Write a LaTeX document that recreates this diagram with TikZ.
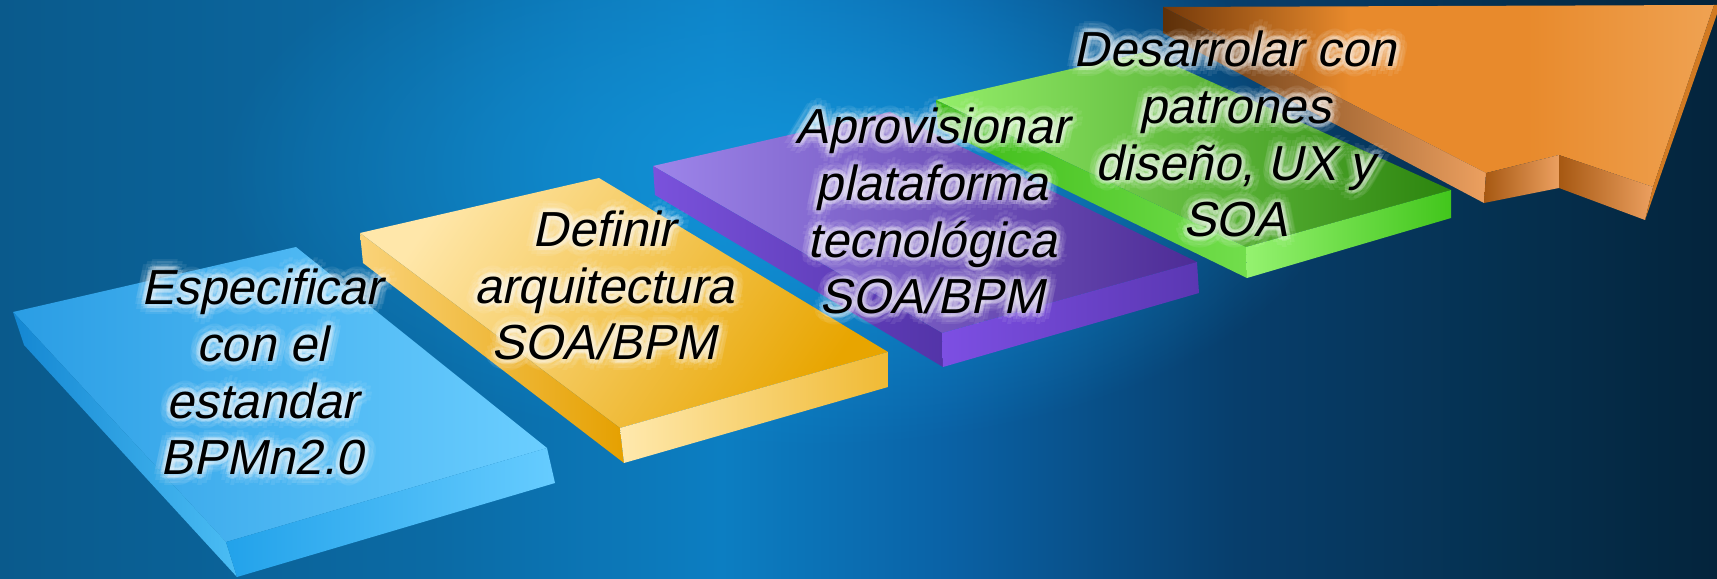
\documentclass[tikz,border=0pt]{standalone}
\usepackage{fontspec}
\setmainfont{Liberation Sans}
\newfontfamily\stepfont{Liberation Sans}[FakeSlant=0.21]
\usetikzlibrary{calc,fadings}

% backdrop colours
\definecolor{bgA}{HTML}{0A5A8C}
\definecolor{bgB}{HTML}{0B6AA4}
\definecolor{bgC}{HTML}{0C7EC2}
\definecolor{bgD}{HTML}{0A62A6}
\definecolor{bgE}{HTML}{073E6C}
\definecolor{bgF}{HTML}{05304F}
\definecolor{bgG}{HTML}{04243C}
\definecolor{bgglow}{HTML}{1293D8}
% step colours
\definecolor{grnA}{HTML}{94EE6A}
\definecolor{grnB}{HTML}{46C81E}
\definecolor{grnC}{HTML}{2C840E}
\definecolor{grnD}{HTML}{3DBB16}
\definecolor{grnE}{HTML}{72DE4C}
\definecolor{grnF}{HTML}{95F270}
\definecolor{grnG}{HTML}{42C61C}
\definecolor{orgA}{HTML}{74390A}
\definecolor{orgB}{HTML}{E88A2C}
\definecolor{orgC}{HTML}{EFA252}
\definecolor{orgD}{HTML}{5E3008}
\definecolor{orgE}{HTML}{ECA060}
\definecolor{orgF}{HTML}{A65812}
\definecolor{orgG}{HTML}{D27A22}
\definecolor{purA}{HTML}{9D85EA}
\definecolor{purB}{HTML}{4D2C96}
\definecolor{purC}{HTML}{7A52DC}
\definecolor{purD}{HTML}{5334A8}
\definecolor{purE}{HTML}{7D4FE3}
\definecolor{purF}{HTML}{5A37B2}
\definecolor{ylwA}{HTML}{FFE7AA}
\definecolor{ylwB}{HTML}{E8A500}
\definecolor{ylwC}{HTML}{FAD37A}
\definecolor{ylwD}{HTML}{E5A000}
\definecolor{ylwE}{HTML}{FFE9AE}
\definecolor{ylwF}{HTML}{F0BA34}
\definecolor{bluA}{HTML}{2A9DE4}
\definecolor{bluB}{HTML}{6BCEFF}
\definecolor{bluC}{HTML}{1487D2}
\definecolor{bluD}{HTML}{4BBDF4}
\definecolor{bluE}{HTML}{22A2EA}
\definecolor{bluF}{HTML}{0A8AD8}
\definecolor{bluG}{HTML}{66CCFF}

\pgfdeclarehorizontalshading{backdrop}{100bp}{color(0bp)=(bgA); color(25bp)=(bgA);
  color(37.5bp)=(bgB); color(46bp)=(bgC); color(52.5bp)=(bgD); color(61bp)=(bgE);
  color(69bp)=(bgF); color(75bp)=(bgG); color(100bp)=(bgG)}
\pgfdeclarehorizontalshading{arrowtop}{100bp}{color(0bp)=(orgA); color(25bp)=(orgA);
  color(42bp)=(orgB); color(58bp)=(orgB); color(75bp)=(orgC); color(100bp)=(orgC)}
\tikzfading[name=softglow, inner color=transparent!0, outer color=transparent!100]

\tikzset{
  steptext/.style={font=\stepfont\fontsize{14}{16.2}\selectfont, align=center,
    anchor=base, inner sep=0pt},
  halo/.style={steptext, text=white, text opacity=#1},
}

% text with a soft light halo (anchored at the last line's baseline)
\newcommand{\glowlabel}[3]{%
  \foreach \ang in {0,30,...,330}{%
    \node[halo=0.17] (#1h\ang) at ($(#2)+(\ang:1.3pt)$) {#3};
    \node[halo=0.08] (#1g\ang) at ($(#2)+(\ang:2.9pt)$) {#3};
  }%
  \node[steptext] (#1) at (#2) {#3};%
}

\begin{document}
\begin{tikzpicture}[x=0.01cm, y=-0.01cm]
\useasboundingbox (0,0) rectangle (1717,579);
\clip (0,0) rectangle (1717,579);
% background
\shade[shading=backdrop] (0,0) rectangle (1717,579);
\fill[bgglow, path fading=softglow] (780,170) ellipse (560 and 280);

% green step
\shade[left color=grnA, middle color=grnB, right color=grnC]
  (936,100) -- (1145,52) -- (1451,190) -- (1246,247) -- cycle;
\shade[left color=grnD, right color=grnE]
  (936,100) -- (1246,247) -- (1247,278) -- (938,128) -- cycle;
\shade[left color=grnF, right color=grnG]
  (1246,247) -- (1451,190) -- (1451,218) -- (1247,278) -- cycle;

% orange arrow
\shade[shading=arrowtop]
  (1163,7) -- (1714,5) -- (1653,187) -- (1559,155) -- (1486,173) -- cycle;
\shade[left color=orgD, right color=orgE]
  (1163,7) -- (1486,173) -- (1484,203) -- (1163,33) -- cycle;
\shade[left color=orgF, right color=orgE]
  (1486,173) -- (1559,155) -- (1559,188) -- (1484,203) -- cycle;
\shade[left color=orgF, right color=orgE]
  (1559,155) -- (1653,187) -- (1645,220) -- (1559,188) -- cycle;
\fill[orgG] (1653,187) -- (1714,5) -- (1717,5) -- (1717,14) -- (1645,220) -- cycle;

% purple step
\shade[left color=purA, right color=purB]
  (653,166) -- (890,112) -- (1197,262) -- (942,333) -- cycle;
\shade[left color=purC, right color=purD]
  (653,166) -- (942,333) -- (943,367) -- (655,195) -- cycle;
\shade[left color=purE, right color=purF]
  (942,333) -- (1197,262) -- (1199,293) -- (943,367) -- cycle;

% yellow step
\shade[top color=ylwA, bottom color=ylwB, shading angle=55]
  (360,233) -- (599,178) -- (888,352) -- (620,428) -- cycle;
\shade[left color=ylwC, right color=ylwD]
  (360,233) -- (620,428) -- (624,463) -- (363,263) -- cycle;
\shade[left color=ylwE, right color=ylwF]
  (620,428) -- (888,352) -- (888,387) -- (624,463) -- cycle;

% blue step
\shade[left color=bluA, right color=bluB]
  (13,312) -- (296,247) -- (547,448) -- (226,542) -- cycle;
\shade[left color=bluC, right color=bluD]
  (13,312) -- (226,542) -- (237,577) -- (24,345) -- cycle;
\shade[left color=bluE, middle color=bluF, right color=bluG]
  (226,542) -- (547,448) -- (555,483) -- (237,577) -- cycle;

% labels
\glowlabel{spec}{262,475}{Especificar\\con el\\estandar\\BPMn2.0}
\glowlabel{arch}{604,360}{Definir\\arquitectura\\SOA/BPM}
\glowlabel{prov}{932,314}{Aprovisionar\\plataforma\\tecnológica\\SOA/BPM}
\glowlabel{dev}{1235,237}{Desarrolar con\\patrones\\diseño, UX y\\SOA}
\end{tikzpicture}
\end{document}
